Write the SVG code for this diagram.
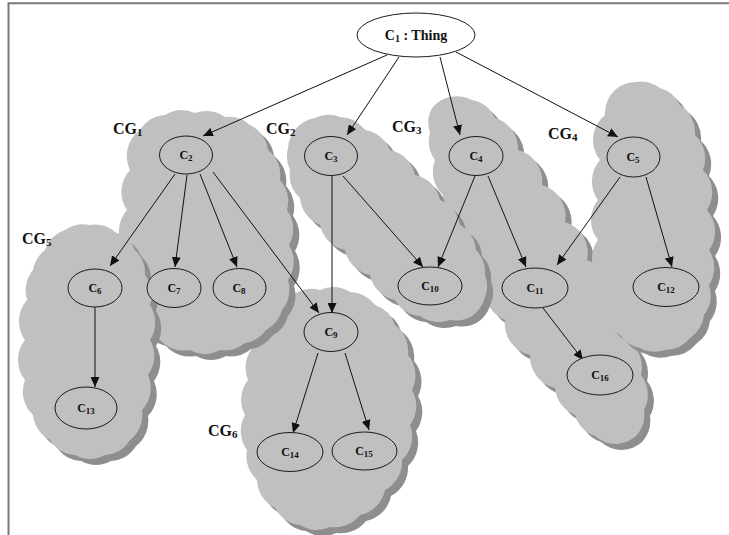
<svg xmlns="http://www.w3.org/2000/svg" xmlns:xlink="http://www.w3.org/1999/xlink" width="729" height="535" viewBox="0 0 729 535">
<style>
.cloud{fill:#c0c0c0;stroke:none}
.shadow{fill:#8e8e8e;stroke:none}
.node{fill:#c0c0c0;stroke:#1a1a1a;stroke-width:1}
.root{fill:#ffffff;stroke:#1a1a1a;stroke-width:1}
.n{font-family:"Liberation Serif","Times New Roman",serif;font-size:12px;font-weight:bold;fill:#111;text-anchor:middle}
.s{font-size:9px}
.cg{font-family:"Liberation Serif","Times New Roman",serif;font-size:16px;font-weight:bold;fill:#111}
.cgs{font-size:11px}
.edge{stroke:#111;stroke-width:1;fill:none;marker-end:url(#arr)}
.frame{stroke:#7a7a7a;stroke-width:2;fill:none}
</style>
<defs>
<marker id="arr" markerUnits="userSpaceOnUse" markerWidth="11" markerHeight="9" refX="10" refY="4.5" orient="auto">
<path d="M0,0 L10,4.5 L0,9 z" fill="#111"/>
</marker>
<path id="cg1-shape" d="M140,130 A32,32 0 0 1 165,115 32,32 0 0 1 195,113 32,32 0 0 1 225,117 32,32 0 0 1 250,125 32,32 0 0 1 268,150 32,32 0 0 1 280,180 32,32 0 0 1 287,210 32,32 0 0 1 289,245 32,32 0 0 1 288,280 32,32 0 0 1 282,310 32,32 0 0 1 266,330 32,32 0 0 1 245,343 32,32 0 0 1 220,350 32,32 0 0 1 190,350 32,32 0 0 1 160,340 32,32 0 0 1 138,320 32,32 0 0 1 127,290 32,32 0 0 1 125,250 32,32 0 0 1 127,210 32,32 0 0 1 130,170 32,32 0 0 1 140,130 Z"/>
<path id="cg2-shape" d="M295,130 A32,32 0 0 1 315,118 32,32 0 0 1 340,117 32,32 0 0 1 365,130 32,32 0 0 1 390,150 32,32 0 0 1 415,175 32,32 0 0 1 440,200 32,32 0 0 1 460,225 32,32 0 0 1 476,250 32,32 0 0 1 485,275 32,32 0 0 1 484,300 32,32 0 0 1 472,316 32,32 0 0 1 450,320 32,32 0 0 1 420,316 32,32 0 0 1 395,300 32,32 0 0 1 370,275 32,32 0 0 1 345,250 32,32 0 0 1 320,225 32,32 0 0 1 300,198 32,32 0 0 1 290,170 32,32 0 0 1 288,148 32,32 0 0 1 295,130 Z"/>
<path id="cg3-shape" d="M432,108 A32,32 0 0 1 450,97 32,32 0 0 1 472,100 32,32 0 0 1 495,118 32,32 0 0 1 518,150 32,32 0 0 1 542,185 32,32 0 0 1 565,222 32,32 0 0 1 587,260 32,32 0 0 1 608,300 32,32 0 0 1 627,340 32,32 0 0 1 641,375 32,32 0 0 1 644,410 32,32 0 0 1 636,436 32,32 0 0 1 616,444 32,32 0 0 1 595,436 32,32 0 0 1 575,415 32,32 0 0 1 555,388 32,32 0 0 1 530,355 32,32 0 0 1 505,320 32,32 0 0 1 485,290 32,32 0 0 1 468,258 32,32 0 0 1 455,228 32,32 0 0 1 443,195 32,32 0 0 1 435,160 32,32 0 0 1 430,133 32,32 0 0 1 432,108 Z"/>
<path id="cg4-shape" d="M605,115 A32,32 0 0 1 615,90 32,32 0 0 1 635,82 32,32 0 0 1 660,88 32,32 0 0 1 680,105 32,32 0 0 1 695,135 32,32 0 0 1 703,170 32,32 0 0 1 707,210 32,32 0 0 1 709,250 32,32 0 0 1 709,285 32,32 0 0 1 704,315 32,32 0 0 1 690,338 32,32 0 0 1 665,350 32,32 0 0 1 640,348 32,32 0 0 1 620,335 32,32 0 0 1 605,315 32,32 0 0 1 600,280 32,32 0 0 1 598,240 32,32 0 0 1 598,200 32,32 0 0 1 600,160 32,32 0 0 1 605,115 Z"/>
<path id="cg5-shape" d="M45,250 A32,32 0 0 1 65,230 32,32 0 0 1 90,225 32,32 0 0 1 115,232 32,32 0 0 1 135,250 32,32 0 0 1 145,275 32,32 0 0 1 150,305 32,32 0 0 1 150,340 32,32 0 0 1 148,375 32,32 0 0 1 142,410 32,32 0 0 1 130,440 32,32 0 0 1 105,455 32,32 0 0 1 75,455 32,32 0 0 1 50,440 32,32 0 0 1 33,415 32,32 0 0 1 25,380 32,32 0 0 1 25,340 32,32 0 0 1 27,300 32,32 0 0 1 33,270 32,32 0 0 1 45,250 Z"/>
<path id="cg6-shape" d="M268,315 A32,32 0 0 1 290,297 32,32 0 0 1 320,290 32,32 0 0 1 350,292 32,32 0 0 1 375,305 32,32 0 0 1 395,325 32,32 0 0 1 408,355 32,32 0 0 1 412,390 32,32 0 0 1 410,425 32,32 0 0 1 402,460 32,32 0 0 1 385,490 32,32 0 0 1 360,515 32,32 0 0 1 330,527 32,32 0 0 1 300,525 32,32 0 0 1 275,508 32,32 0 0 1 257,480 32,32 0 0 1 247,450 32,32 0 0 1 245,415 32,32 0 0 1 248,380 32,32 0 0 1 255,345 32,32 0 0 1 268,315 Z"/>
</defs>
<rect x="0" y="0" width="729" height="535" fill="#ffffff"/>
<path class="frame" d="M8.5,535 V3.2 H729"/>
<g id="cg6">
<use xlink:href="#cg6-shape" class="shadow" transform="translate(6,6)"/>
<use xlink:href="#cg6-shape" class="cloud"/>
<text class="cg" x="208" y="436">CG<tspan class="cgs" dy="2">6</tspan></text>
</g>
<g id="cg1">
<use xlink:href="#cg1-shape" class="shadow" transform="translate(6,6)"/>
<use xlink:href="#cg1-shape" class="cloud"/>
<text class="cg" x="113" y="134">CG<tspan class="cgs" dy="2">1</tspan></text>
</g>
<g id="cg5">
<use xlink:href="#cg5-shape" class="shadow" transform="translate(6,6)"/>
<use xlink:href="#cg5-shape" class="cloud"/>
<text class="cg" x="22" y="244">CG<tspan class="cgs" dy="2">5</tspan></text>
</g>
<g id="cg3">
<use xlink:href="#cg3-shape" class="shadow" transform="translate(6,6)"/>
<use xlink:href="#cg3-shape" class="cloud"/>
<text class="cg" x="392" y="132">CG<tspan class="cgs" dy="2">3</tspan></text>
</g>
<g id="cg2">
<use xlink:href="#cg2-shape" class="shadow" transform="translate(6,6)"/>
<use xlink:href="#cg2-shape" class="cloud"/>
<text class="cg" x="266" y="134">CG<tspan class="cgs" dy="2">2</tspan></text>
</g>
<g id="cg4">
<use xlink:href="#cg4-shape" class="shadow" transform="translate(6,6)"/>
<use xlink:href="#cg4-shape" class="cloud"/>
<text class="cg" x="548" y="139">CG<tspan class="cgs" dy="2">4</tspan></text>
</g>
<g id="connectors">
<line class="edge" x1="387" y1="55" x2="203" y2="136"/>
<line class="edge" x1="399" y1="57" x2="347" y2="135"/>
<line class="edge" x1="440" y1="57" x2="460" y2="135"/>
<line class="edge" x1="456" y1="52" x2="618" y2="137"/>
<line class="edge" x1="175" y1="174" x2="110" y2="266"/>
<line class="edge" x1="187" y1="175" x2="175" y2="267"/>
<line class="edge" x1="200" y1="174" x2="237" y2="267"/>
<line class="edge" x1="213" y1="172" x2="319" y2="313"/>
<line class="edge" x1="332" y1="176" x2="332" y2="313"/>
<line class="edge" x1="343" y1="176" x2="423" y2="267"/>
<line class="edge" x1="475" y1="176" x2="438" y2="267"/>
<line class="edge" x1="488" y1="176" x2="526" y2="267"/>
<line class="edge" x1="620" y1="177" x2="557" y2="265"/>
<line class="edge" x1="646" y1="177" x2="672" y2="267"/>
<line class="edge" x1="95" y1="307" x2="95" y2="387"/>
<line class="edge" x1="318" y1="353" x2="293" y2="433"/>
<line class="edge" x1="345" y1="353" x2="369" y2="430"/>
<line class="edge" x1="543" y1="308" x2="583" y2="360"/>
</g>
<g id="node-c1"><ellipse class="root" cx="416" cy="35" rx="59" ry="22"/><text class="n" x="416" y="40" style="font-size:14px">C<tspan style="font-size:10px" dy="2">1</tspan><tspan dy="-2"> : Thing</tspan></text></g>
<g id="node-c2"><ellipse class="node" cx="186" cy="155" rx="26.5" ry="19"/><text class="n" x="186" y="159">C<tspan class="s" dy="2">2</tspan></text></g>
<g id="node-c3"><ellipse class="node" cx="331" cy="156" rx="26.5" ry="19.5"/><text class="n" x="331" y="160">C<tspan class="s" dy="2">3</tspan></text></g>
<g id="node-c4"><ellipse class="node" cx="476" cy="156" rx="27" ry="19.5"/><text class="n" x="476" y="160">C<tspan class="s" dy="2">4</tspan></text></g>
<g id="node-c5"><ellipse class="node" cx="633.5" cy="157" rx="26.5" ry="20"/><text class="n" x="633" y="161">C<tspan class="s" dy="2">5</tspan></text></g>
<g id="node-c6"><ellipse class="node" cx="95" cy="288" rx="27" ry="19"/><text class="n" x="95" y="292">C<tspan class="s" dy="2">6</tspan></text></g>
<g id="node-c7"><ellipse class="node" cx="174" cy="288" rx="27" ry="19.5"/><text class="n" x="174" y="292">C<tspan class="s" dy="2">7</tspan></text></g>
<g id="node-c8"><ellipse class="node" cx="239.5" cy="288" rx="26.5" ry="19.5"/><text class="n" x="239" y="292">C<tspan class="s" dy="2">8</tspan></text></g>
<g id="node-c9"><ellipse class="node" cx="331" cy="332" rx="27" ry="19.5"/><text class="n" x="331" y="336">C<tspan class="s" dy="2">9</tspan></text></g>
<g id="node-c10"><ellipse class="node" cx="430" cy="286" rx="32" ry="19"/><text class="n" x="430" y="290">C<tspan class="s" dy="2">10</tspan></text></g>
<g id="node-c11"><ellipse class="node" cx="535" cy="288" rx="33" ry="20"/><text class="n" x="535" y="292">C<tspan class="s" dy="2">11</tspan></text></g>
<g id="node-c12"><ellipse class="node" cx="666" cy="287" rx="33" ry="19.5"/><text class="n" x="666" y="291">C<tspan class="s" dy="2">12</tspan></text></g>
<g id="node-c13"><ellipse class="node" cx="86" cy="408" rx="31" ry="21"/><text class="n" x="86" y="412">C<tspan class="s" dy="2">13</tspan></text></g>
<g id="node-c14"><ellipse class="node" cx="290" cy="452" rx="33" ry="19.5"/><text class="n" x="290" y="456">C<tspan class="s" dy="2">14</tspan></text></g>
<g id="node-c15"><ellipse class="node" cx="364.5" cy="451" rx="32.5" ry="19"/><text class="n" x="364" y="455">C<tspan class="s" dy="2">15</tspan></text></g>
<g id="node-c16"><ellipse class="node" cx="600" cy="375" rx="33" ry="20"/><text class="n" x="600" y="379">C<tspan class="s" dy="2">16</tspan></text></g>
</svg>
